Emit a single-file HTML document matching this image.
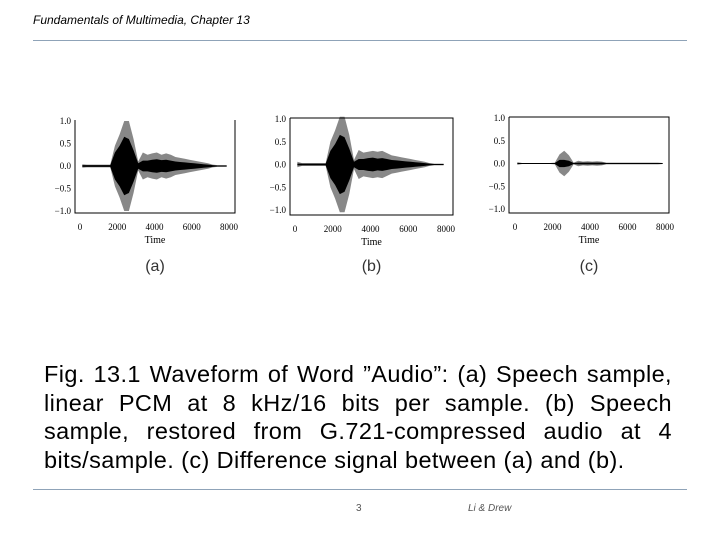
<!DOCTYPE html>
<html><head><meta charset="utf-8"><style>
body{margin:0;width:720px;height:540px;background:#fff;overflow:hidden;position:relative;font-family:"Liberation Sans",sans-serif}
.hdr{position:absolute;left:33px;top:13px;font-size:12px;font-style:italic;color:#000}
.rule{position:absolute;left:33px;width:654px;height:1px;background:#8fa3b8}
.cap{position:absolute;left:44px;top:360px;width:628px;font-size:23.5px;letter-spacing:0.4px;line-height:28.5px;color:#000}
.cap div{text-align:justify;text-align-last:justify;white-space:nowrap}
.cap div.last{text-align-last:left}
.ft{position:absolute;top:503px;font-size:10px;color:#555}
svg text{font-family:"Liberation Serif",serif}
</style></head><body>
<div class="hdr">Fundamentals of Multimedia, Chapter 13</div>
<div class="rule" style="top:40px"></div>
<svg id="plots" width="720" height="300" style="position:absolute;left:0;top:0"></svg>
<div class="cap">
<div>Fig. 13.1 Waveform of Word ”Audio”: (a) Speech sample,</div>
<div>linear PCM at 8 kHz/16 bits per sample. (b) Speech</div>
<div>sample, restored from G.721-compressed audio at 4</div>
<div class="last">bits/sample. (c) Difference signal between (a) and (b).</div>
</div>
<div class="rule" style="top:489px"></div>
<div class="ft" style="left:356px">3</div>
<div class="ft" style="left:468px;font-style:italic">Li &amp; Drew</div>
<script>
const binTimes = Array.from({length:32},(_, i)=>i*250+125);
const speechOuter = [0.04,0.03,0.03,0.03,0.03,0.03,0.03,0.45,0.7,1.0,1.0,0.6,0.1,0.3,0.25,0.28,0.3,0.25,0.28,0.25,0.2,0.18,0.16,0.14,0.12,0.1,0.08,0.06,0.03,0.02,0.02,0.02];
const speechInner = [0.02,0.02,0.02,0.02,0.02,0.02,0.02,0.3,0.45,0.65,0.6,0.35,0.06,0.12,0.12,0.14,0.15,0.13,0.14,0.12,0.1,0.09,0.08,0.07,0.06,0.05,0.04,0.03,0.02,0.01,0.01,0.01];
const restoredOuter = [0.06,0.03,0.03,0.03,0.03,0.03,0.03,0.5,0.75,1.05,1.05,0.65,0.1,0.32,0.26,0.28,0.3,0.28,0.3,0.25,0.2,0.18,0.16,0.14,0.12,0.1,0.08,0.06,0.03,0.02,0.02,0.02];
const diffOuter = [0.03,0.01,0.01,0.01,0.01,0.01,0.01,0.01,0.02,0.2,0.28,0.18,0.02,0.06,0.04,0.05,0.04,0.05,0.04,0.02,0.02,0.02,0.02,0.02,0.02,0.02,0.02,0.02,0.02,0.02,0.02,0.01];
const diffInner = [0.01,0.01,0.01,0.01,0.01,0.01,0.01,0.01,0.01,0.08,0.08,0.06,0.01,0.02,0.02,0.02,0.02,0.02,0.02,0.01,0.01,0.01,0.01,0.01,0.01,0.01,0.01,0.01,0.01,0.01,0.01,0.01];
const xTicks = [0,2000,4000,6000,8000];
const yTicks = [1.0,0.5,0.0,-0.5,-1.0];
const yTickLabels = ["1.0","0.5","0.0","\u22120.5","\u22121.0"];
const panels = [
 {id:'a',L:75,R:235,T:120,B:213,x0:80,x1:229,y1:121,ym1:211,outer:speechOuter,inner:speechInner,label:'(a)',top:false},
 {id:'b',L:290,R:453,T:118,B:215,x0:295,x1:446,y1:119,ym1:210,outer:restoredOuter,inner:speechInner,label:'(b)',top:true},
 {id:'c',L:509,R:669,T:117,B:213,x0:515,x1:665,y1:118,ym1:209,outer:diffOuter,inner:diffInner,label:'(c)',top:true}
];
const svg=document.getElementById('plots');const NS='http://www.w3.org/2000/svg';
function mk(t,a,p){const e=document.createElementNS(NS,t);for(const k in a)e.setAttribute(k,a[k]);(p||svg).appendChild(e);return e;}
panels.forEach(p=>{
 const g=mk('g',{});
 
 
 const X=t=>p.x0+(t/8000)*(p.x1-p.x0);
 const y0=(p.y1+p.ym1)/2,Y=v=>y0-v*(p.ym1-p.y1)/2;
 function env(arr,fill,name){
  let up=binTimes.map((t,i)=>X(t)+','+Y(arr[i]));
  let dn=binTimes.map((t,i)=>X(t)+','+Y(-arr[i])).reverse();
  const e=mk('polygon',{points:up.concat(dn).join(' '),fill:fill},g);
  
  
 }
 env(p.outer,'#888','waveform-envelope');
 env(p.inner,'#000','waveform-core');
 const ax=mk('path',{d:`M${p.L},${p.T}V${p.B}H${p.R}V${p.T}`+(p.top?`H${p.L}`:''),fill:'none',stroke:'#000','stroke-width':1},g);
 
 
 yTicks.forEach((v,i)=>{
  const t=mk('text',{x:p.L-4,y:Y(v)+3,'font-size':9,'text-anchor':'end'},g);t.textContent=yTickLabels[i];
  
  
 });
 xTicks.forEach(v=>{
  const t=mk('text',{x:X(v),y:p.B+17,'font-size':9,'text-anchor':'middle'},g);t.textContent=v;
  
  
 });
 const xt=mk('text',{x:(p.L+p.R)/2,y:p.B+30,'font-size':10,'text-anchor':'middle'},g);xt.textContent='Time';
 
 
 const lb=mk('text',{x:(p.L+p.R)/2,y:271,'font-size':16,'text-anchor':'middle','fill':'#333'},g);lb.textContent=p.label;
 lb.style.fontFamily='"Liberation Sans",sans-serif';
 
 
});
</script>
</body></html>
